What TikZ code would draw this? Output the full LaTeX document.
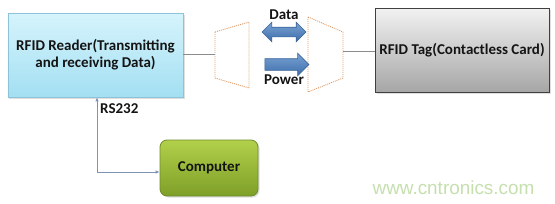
\documentclass[tikz,border=0pt]{standalone}
\usepackage{fontspec}
\setmainfont{Carlito}
\newfontfamily\wmfont{Liberation Sans}
\usetikzlibrary{shapes.arrows,arrows.meta,shadows}
\definecolor{readertop}{HTML}{D6F4FC}
\definecolor{readerbot}{HTML}{A3DFF2}
\definecolor{readerborder}{HTML}{8CC3D8}
\definecolor{tagtop}{HTML}{F2F2F2}
\definecolor{tagbot}{HTML}{A6A6A6}
\definecolor{tagborder}{HTML}{404040}
\definecolor{comptop}{HTML}{B2D04A}
\definecolor{compbot}{HTML}{7E9F28}
\definecolor{compborder}{HTML}{6F8C2C}
\definecolor{arrtop}{HTML}{7AA3D6}
\definecolor{arrbot}{HTML}{3D6DA8}
\definecolor{arrborder}{HTML}{3A659A}
\definecolor{trapcol}{HTML}{DE9A68}
\definecolor{linkcol}{HTML}{8C8C8C}
\definecolor{rscol}{HTML}{7F93B5}
\definecolor{wmcol}{HTML}{C5DFAE}
\begin{document}
\begin{tikzpicture}[x=1bp,y=-1bp,
  lbl/.style={font=\fontsize{15bp}{17bp}\selectfont\bfseries, text=black!92},
  boxreader/.style={draw=readerborder, line width=0.7bp, top color=readertop, bottom color=readerbot,
     minimum width=175bp, minimum height=84bp, inner sep=0pt, align=center, lbl,
     drop shadow={shadow xshift=1.5bp, shadow yshift=-1.5bp, opacity=0.25}},
  boxtag/.style={draw=tagborder, line width=0.8bp, top color=tagtop, bottom color=tagbot,
     minimum width=174bp, minimum height=84bp, inner sep=0pt, align=center, lbl,
     drop shadow={shadow xshift=1.5bp, shadow yshift=-1.5bp, opacity=0.25}},
  boxcomp/.style={draw=compborder, line width=0.8bp, top color=comptop, bottom color=compbot,
     rounded corners=7bp, minimum width=98bp, minimum height=56bp, inner sep=0pt, lbl,
     drop shadow={shadow xshift=1.5bp, shadow yshift=-1.5bp, opacity=0.25}},
  trap/.style={draw=trapcol, line width=0.9bp, dash pattern=on 1bp off 1bp},
  link/.style={draw=linkcol, line width=0.6bp},
  rs/.style={draw=rscol, line width=0.8bp, -{Latex[length=4bp,width=3.5bp]}},
  bluearrow/.style={draw=arrborder, line width=0.6bp, top color=arrtop, bottom color=arrbot, inner xsep=0pt}
]
\useasboundingbox (0,0) rectangle (555,203);

% boxes
\node[boxreader] (reader) at (95.5,55) {RFID Reader(Transmitting\\and receiving Data)};
\node[boxtag] (tag) at (462,50) {RFID Tag(Contactless Card)};
\node[boxcomp] (comp) at (209,168) {Computer};

% trapezoids (antenna coils)
\draw[trap] (215,32) -- (249,22) -- (249,88) -- (215,78) -- cycle;
\draw[trap] (308,17) -- (343,32) -- (343,78) -- (308,92) -- cycle;
\coordinate (lt) at (215,54);
\coordinate (rt) at (343,51);

% links
\draw[link] (reader.east |- lt) -- (lt);
\draw[link] (rt) -- (tag.west |- rt);

% data / power arrows
\node[bluearrow, shape=double arrow, minimum height=44bp, inner ysep=4.5bp,
      double arrow head extend=5bp] (data) at (284,32) {};
\node[bluearrow, shape=single arrow, minimum height=44bp, inner ysep=5.5bp,
      single arrow head extend=5.5bp] (power) at (284,64.5) {};
\node[lbl] (datalbl) at (284,15) {Data};
\node[lbl] (powerlbl) at (284,80) {Power};

% RS232 connector
\coordinate (corner) at (97,172);
\draw[rs] (corner) -- (corner |- reader.south);
\draw[rs] (corner) -- (corner -| comp.west);
\node[lbl, anchor=west, inner sep=0pt] (rslbl) at (100,109) {RS232};

% watermark
\node[font=\wmfont\fontsize{18.9bp}{20bp}\selectfont, text=wmcol, inner sep=0pt] (wm) at (453.5,188) {www.cntronics.com};
\end{tikzpicture}
\end{document}
